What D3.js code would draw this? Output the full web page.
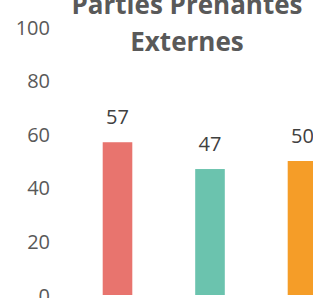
<!DOCTYPE html>
<html><head><meta charset="utf-8">
<script src="https://cdn.jsdelivr.net/npm/d3@7"></script>
<style>html,body{margin:0;padding:0;background:#fff;overflow:hidden}</style>
</head><body>
<svg id="c" width="313" height="298"></svg>
<script>
const titleLines = ["Parties Prenantes", "Externes"];
const categories = ["Catégorie 1", "Catégorie 2", "Catégorie 3"];
const values = [57, 47, 50];
const colors = ["#E8746E", "#6BC3AE", "#F59D28"];
const yTicks = [0, 20, 40, 60, 80, 100];

const svg = d3.select("#c");
const font = "'Open Sans', sans-serif";

const y = d3.scaleLinear().domain([0, 100]).range([295, 27]);
const x = d3.scaleBand().domain(categories).range([71.25, 348.75])
  .paddingInner(0.68).paddingOuter(0.34);

const yAxis = d3.axisLeft(y).tickValues(yTicks).tickSize(0).tickPadding(0);
const gy = svg.append("g").attr("transform", "translate(50,0)").call(yAxis);
gy.select(".domain").remove();
gy.selectAll("text").attr("font-family", font).attr("font-size", 20)
  .attr("fill", "#595959").attr("dy", "0.35em");

svg.selectAll("rect.bar").data(values).join("rect").attr("class", "bar")
  .attr("x", (d, i) => x(categories[i]))
  .attr("width", x.bandwidth())
  .attr("y", d => y(d))
  .attr("height", d => y(0) - y(d))
  .attr("fill", (d, i) => colors[i]);

svg.selectAll("text.lbl").data(values).join("text").attr("class", "lbl")
  .attr("x", (d, i) => x(categories[i]) + x.bandwidth() / 2)
  .attr("y", d => y(d) - 18)
  .attr("text-anchor", "middle")
  .attr("font-family", font).attr("font-size", 20).attr("fill", "#404040")
  .text(d => d);

svg.selectAll("text.title").data(titleLines).join("text").attr("class", "title")
  .attr("x", 187).attr("y", (d, i) => 14 + i * 37)
  .attr("text-anchor", "middle")
  .attr("font-family", font).attr("font-size", 26).attr("font-weight", "bold")
  .attr("fill", "#595959").text(d => d);
</script>
</body></html>
